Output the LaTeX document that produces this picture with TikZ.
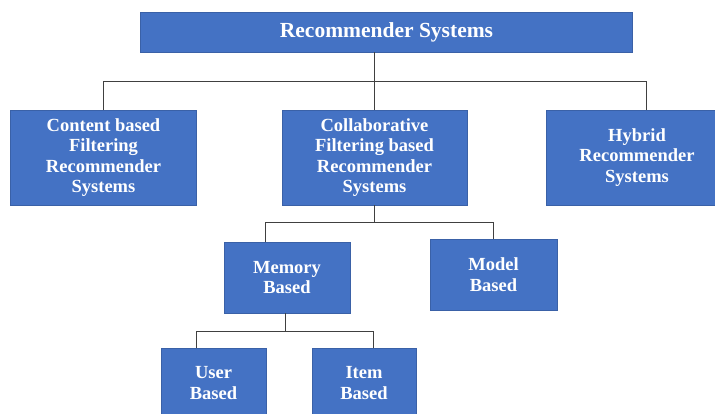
\documentclass[tikz,border=0pt]{standalone}
\usepackage{fontspec}
\setmainfont{Liberation Serif}
\definecolor{boxblue}{HTML}{4472C4}
\definecolor{linegray}{HTML}{404040}
\tikzset{
  bx/.style={fill=boxblue, draw=boxblue!85!black, line width=0.4pt, text=white,
    font=\bfseries\fontsize{18.5}{20.5}\selectfont, align=center, inner sep=0pt},
  conn/.style={draw=linegray, line width=0.9pt}
}
\begin{document}
\begin{tikzpicture}[x=1pt,y=-1pt]
\useasboundingbox (0,0) rectangle (715,414);
\clip (0,0) rectangle (715,414);
\node[bx, minimum width=492pt, minimum height=40pt, font=\bfseries\fontsize{21.5}{24}\selectfont] (top) at (386.5,32) {Recommender Systems};
\node[bx, minimum width=186pt, minimum height=95pt] (left) at (103.5,157.5) {Content based\\Filtering\\Recommender\\Systems};
\node[bx, minimum width=185pt, minimum height=95pt] (mid) at (374.5,157.5) {Collaborative\\Filtering based\\Recommender\\Systems};
\node[bx, minimum width=182pt, minimum height=95pt] (right) at (637,157.5) {Hybrid\\Recommender\\Systems};
\node[bx, minimum width=126pt, minimum height=71pt] (mem) at (287,277.5) {Memory\\Based};
\node[bx, minimum width=127pt, minimum height=71pt] (model) at (493.5,274.5) {Model\\Based};
\node[bx, minimum width=105pt, minimum height=70pt] (user) at (213.5,383) {User\\Based};
\node[bx, minimum width=104pt, minimum height=70pt] (item) at (364,383) {Item\\Based};
\coordinate (bus1) at (0,81);
\coordinate (bus2) at (0,222);
\coordinate (bus3) at (0,331);
% level 1
\draw[conn] (top.south -| mid.north) -- (mid.north);
\draw[conn] (left.north) -- (left.north |- bus1) -- ([xshift=9pt]right.north |- bus1) -- ([xshift=9pt]right.north);
% level 2
\draw[conn] (mid.south) -- (mid.south |- bus2);
\draw[conn] ([xshift=-22pt]mem.north) -- ([xshift=-22pt]mem.north |- bus2) -- (model.north |- bus2) -- (model.north);
% level 3
\draw[conn] ([xshift=-2pt]mem.south) -- ([xshift=-2pt]mem.south |- bus3);
\draw[conn] ([xshift=-17.5pt]user.north) -- ([xshift=-17.5pt]user.north |- bus3) -- ([xshift=9pt]item.north |- bus3) -- ([xshift=9pt]item.north);
\end{tikzpicture}
\end{document}
